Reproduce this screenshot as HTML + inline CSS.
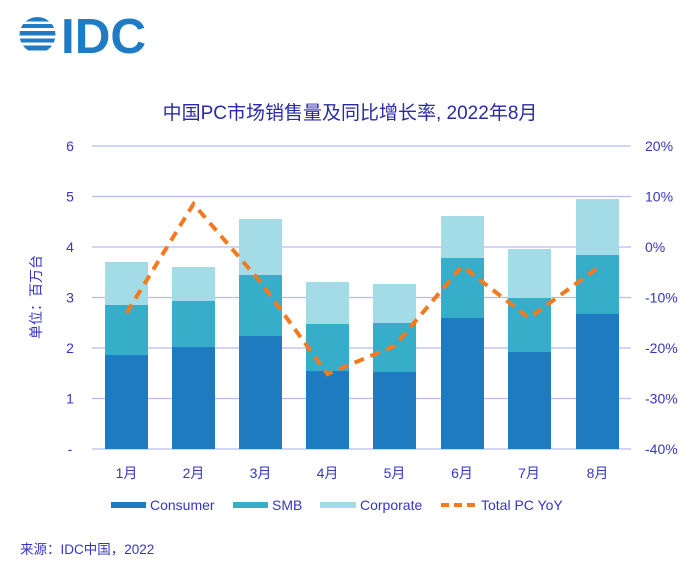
<!DOCTYPE html>
<html><head><meta charset="utf-8"><style>
body{margin:0;background:#fff;width:700px;height:569px;overflow:hidden}
text{font-family:"Liberation Sans","Noto Sans CJK SC",sans-serif}
</style></head><body>
<svg width="700" height="569" xmlns="http://www.w3.org/2000/svg">
<defs><clipPath id="g"><circle cx="37.5" cy="35" r="18"/></clipPath></defs>
<g clip-path="url(#g)" fill="#1f7bc4">
<rect x="18" y="17" width="40" height="4.5"/>
<rect x="18" y="24" width="40" height="4"/>
<rect x="18" y="31" width="40" height="4.5"/>
<rect x="18" y="38.5" width="40" height="4"/>
<rect x="18" y="45.5" width="40" height="5"/>
</g>
<text x="61" y="53" font-size="49" font-weight="bold" fill="#1f7bc4" textLength="85" lengthAdjust="spacingAndGlyphs">IDC</text>
<text x="350" y="119" text-anchor="middle" font-size="19" fill="#2a2aa8">中国PC市场销售量及同比增长率, 2022年8月</text>
<g stroke="#babaf0" stroke-width="1.3">
<line x1="92" x2="631" y1="146" y2="146"/><line x1="92" x2="631" y1="196.5" y2="196.5"/>
<line x1="92" x2="631" y1="247" y2="247"/><line x1="92" x2="631" y1="297.5" y2="297.5"/>
<line x1="92" x2="631" y1="348" y2="348"/><line x1="92" x2="631" y1="398.5" y2="398.5"/>
<line x1="92" x2="631" y1="449" y2="449"/>
</g>
<g font-size="14" fill="#3535c8">
<text x="70" y="151" text-anchor="middle">6</text><text x="70" y="201.5" text-anchor="middle">5</text>
<text x="70" y="252" text-anchor="middle">4</text><text x="70" y="302.5" text-anchor="middle">3</text>
<text x="70" y="353" text-anchor="middle">2</text><text x="70" y="403.5" text-anchor="middle">1</text>
<text x="70" y="454" text-anchor="middle">-</text>
<text x="645" y="151">20%</text><text x="645" y="201.5">10%</text><text x="645" y="252">0%</text>
<text x="645" y="302.5">-10%</text><text x="645" y="353">-20%</text><text x="645" y="403.5">-30%</text><text x="645" y="454">-40%</text>
<text transform="translate(41,297) rotate(-90)" text-anchor="middle" font-size="14">单位：百万台</text>
</g>
<g>
<rect x="105" y="262" width="43" height="43" fill="#a3dbe6"/><rect x="105" y="305" width="43" height="50" fill="#36adc9"/><rect x="105" y="355" width="43" height="94" fill="#1f7bbf"/>
<rect x="172" y="267" width="43" height="34" fill="#a3dbe6"/><rect x="172" y="301" width="43" height="46" fill="#36adc9"/><rect x="172" y="347" width="43" height="102" fill="#1f7bbf"/>
<rect x="239" y="219" width="43" height="56" fill="#a3dbe6"/><rect x="239" y="275" width="43" height="61" fill="#36adc9"/><rect x="239" y="336" width="43" height="113" fill="#1f7bbf"/>
<rect x="306" y="282" width="43" height="42" fill="#a3dbe6"/><rect x="306" y="324" width="43" height="47" fill="#36adc9"/><rect x="306" y="371" width="43" height="78" fill="#1f7bbf"/>
<rect x="373" y="284" width="43" height="39" fill="#a3dbe6"/><rect x="373" y="323" width="43" height="49" fill="#36adc9"/><rect x="373" y="372" width="43" height="77" fill="#1f7bbf"/>
<rect x="441" y="216" width="43" height="42" fill="#a3dbe6"/><rect x="441" y="258" width="43" height="60" fill="#36adc9"/><rect x="441" y="318" width="43" height="131" fill="#1f7bbf"/>
<rect x="508" y="249" width="43" height="49" fill="#a3dbe6"/><rect x="508" y="298" width="43" height="54" fill="#36adc9"/><rect x="508" y="352" width="43" height="97" fill="#1f7bbf"/>
<rect x="576" y="199" width="43" height="56" fill="#a3dbe6"/><rect x="576" y="255" width="43" height="59" fill="#36adc9"/><rect x="576" y="314" width="43" height="135" fill="#1f7bbf"/>
</g>
<polyline points="126.5,313 193.5,204 260.5,282 327.5,374 394.5,346 462,266 529,318 597.5,268" fill="none" stroke="#f47a20" stroke-width="4" stroke-dasharray="10,7"/>
<g font-size="14" fill="#3535c8" text-anchor="middle">
<text x="126.5" y="478">1月</text><text x="193.5" y="478">2月</text><text x="260.5" y="478">3月</text><text x="327.5" y="478">4月</text>
<text x="394.5" y="478">5月</text><text x="462" y="478">6月</text><text x="529" y="478">7月</text><text x="597.5" y="478">8月</text>
</g>
<rect x="111" y="502" width="35" height="6" fill="#1f7bbf"/>
<rect x="233" y="502" width="35" height="6" fill="#36adc9"/>
<rect x="320" y="502" width="36" height="6" fill="#a3dbe6"/>
<line x1="441" x2="477" y1="505" y2="505" stroke="#f47a20" stroke-width="4" stroke-dasharray="8,5"/>
<g font-size="14" fill="#3535c8">
<text x="150" y="510">Consumer</text><text x="272" y="510">SMB</text><text x="360" y="510">Corporate</text><text x="481" y="510">Total PC YoY</text>
<text x="20" y="554" font-size="13.5">来源：IDC中国，2022</text>
</g>
</svg>
</body></html>
